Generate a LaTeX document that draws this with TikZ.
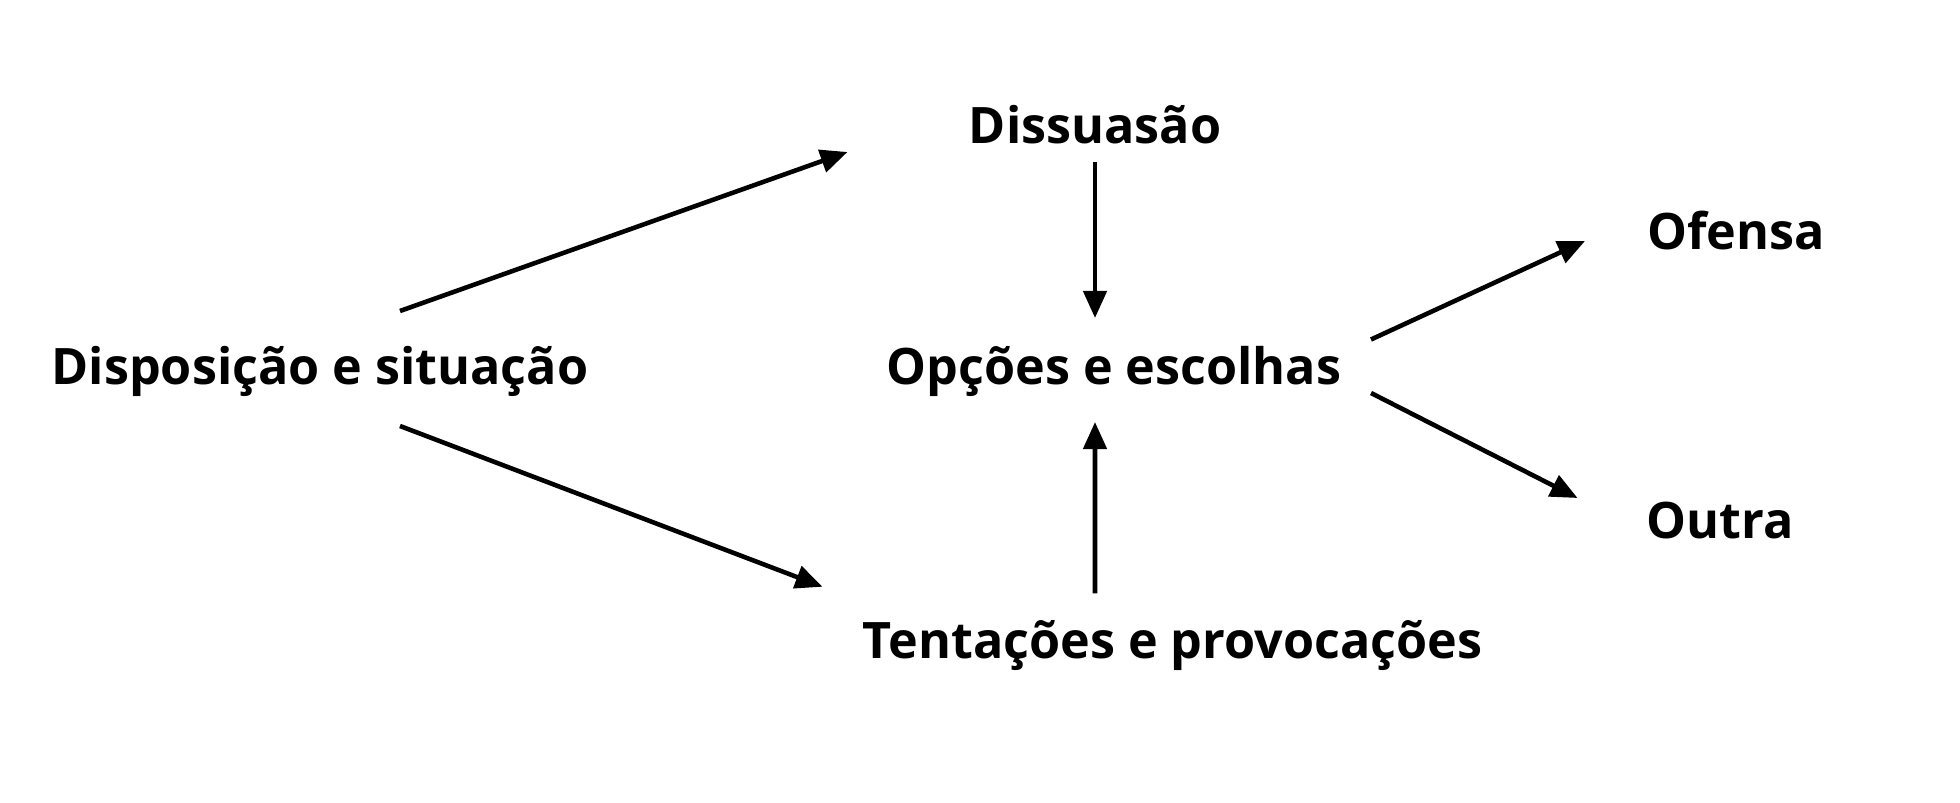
\documentclass[tikz,border=0pt]{standalone}
\usepackage{fontspec}
\setmainfont{Open Sans}
\usetikzlibrary{arrows.meta}
\tikzset{
  lbl/.style={inner sep=0pt, font=\fontsize{14.3}{16}\selectfont\bfseries},
  arr/.style={line width=1.3pt, -{Triangle[length=2.7mm,width=2.3mm]}}
}
\begin{document}
\begin{tikzpicture}
	\useasboundingbox (0,0) rectangle (19.6,8.02);
	
	\node[lbl] (disp) at (3.2,4.31) {Disposição e situação};
	\node[lbl] (diss) at (10.95,6.775) {Dissuasão};
	\node[lbl] (opc) at (11.14,4.31) {Opções e escolhas};
	\node[lbl] (tent) at (11.725,1.5625) {Tentações e provocações};
	\node[lbl] (ofen) at (17.36,5.71) {Ofensa};
	\node[lbl] (outr) at (17.2,2.81) {Outra};
	
	\draw[arr] ([xshift=0.8cm,yshift=0.6cm]disp.center) -- ([xshift=-2.475cm,yshift=-0.275cm]diss.center);
	\draw[arr] ([xshift=0.8cm,yshift=-0.55cm]disp.center) -- ([xshift=-3.5cm,yshift=0.59cm]tent.center);
	\draw[arr] ([yshift=-0.38cm]diss.center) -- ([xshift=-0.19cm,yshift=0.53cm]opc.center);
	\draw[arr] ([xshift=-0.775cm,yshift=0.525cm]tent.center) -- ([xshift=-0.19cm,yshift=-0.51cm]opc.center);
	\draw[arr] ([xshift=2.57cm,yshift=0.315cm]opc.center) -- ([xshift=-1.51cm,yshift=-0.1cm]ofen.center);
	\draw[arr] ([xshift=2.57cm,yshift=-0.22cm]opc.center) -- ([xshift=-1.425cm,yshift=0.23cm]outr.center);
\end{tikzpicture}
\end{document}
